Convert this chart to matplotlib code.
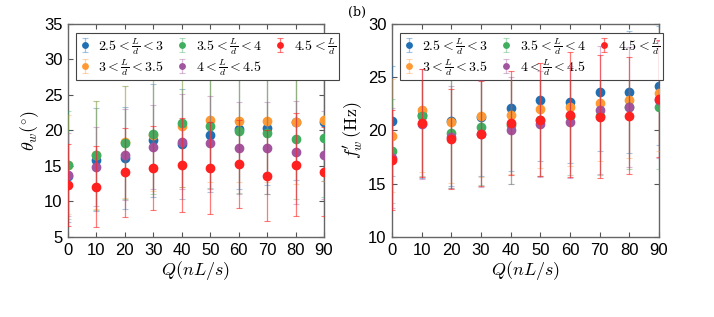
import matplotlib
matplotlib.use('Agg')
import matplotlib.pyplot as plt
import numpy as np

plt.rcParams['mathtext.fontset'] = 'cm'
plt.rcParams['font.family'] = ['Liberation Sans', 'DejaVu Sans']

Q = [0, 10, 20, 30, 40, 50, 60, 70, 80, 90]
labels = [r'$2.5<\frac{L}{d}<3$', r'$3<\frac{L}{d}<3.5$', r'$3.5<\frac{L}{d}<4$',
          r'$4<\frac{L}{d}<4.5$', r'$4.5<\frac{L}{d}$']
colors = ['#1f6fb4', '#ff9933', '#3fae5f', '#a0559e', '#ff2020']

# (a) theta_w
theta_mean = [
    [13.6, 15.9, 16.1, 18.6, 18.1, 19.3, 20.2, 20.4, 21.2, 21.2],
    [15.2, 16.6, 18.4, 19.4, 20.6, 21.5, 21.4, 21.3, 21.2, 21.5],
    [15.2, 16.5, 18.3, 19.5, 21.0, 20.6, 19.9, 19.6, 18.8, 19.0],
    [13.8, 14.9, 16.6, 17.7, 18.4, 18.3, 17.5, 17.5, 16.9, 16.5],
    [12.3, 12.1, 14.1, 14.7, 15.1, 14.7, 15.3, 13.6, 15.2, 14.2],
]
theta_err = [
    [6.5, 7.3, 7.2, 8.0, 7.7, 8.0, 8.4, 8.1, 8.2, 8.3],
    [7.0, 7.6, 7.9, 7.9, 8.6, 8.7, 8.6, 8.6, 8.8, 8.6],
    [7.6, 7.7, 7.9, 8.5, 8.9, 8.7, 8.7, 8.5, 8.4, 8.3],
    [5.8, 5.6, 6.4, 5.9, 6.7, 6.5, 6.5, 6.5, 7.2, 6.2],
    [5.8, 5.7, 6.3, 5.9, 6.6, 6.5, 6.2, 6.4, 7.2, 6.3],
]

# (b) f'_w
f_mean = [
    [20.9, 21.5, 20.9, 21.3, 22.1, 22.9, 22.7, 23.6, 23.6, 24.2],
    [19.5, 21.9, 20.8, 21.4, 21.5, 22.0, 22.2, 22.6, 22.9, 23.5],
    [18.1, 21.4, 19.8, 20.3, 20.5, 21.0, 21.4, 21.4, 22.2, 22.2],
    [17.4, 20.6, 19.4, 19.7, 20.0, 20.6, 20.8, 21.9, 22.2, 22.9],
    [17.2, 20.7, 19.2, 19.7, 20.7, 21.0, 21.5, 21.3, 21.4, 23.0],
]
f_err = [
    [5.2, 6.0, 6.1, 5.6, 5.9, 5.8, 5.8, 5.5, 5.7, 5.6],
    [5.3, 5.8, 5.7, 5.8, 5.6, 5.5, 5.5, 5.5, 5.5, 5.4],
    [4.9, 5.7, 5.2, 5.4, 5.5, 5.3, 5.6, 5.6, 5.8, 5.8],
    [4.7, 5.2, 4.8, 5.0, 5.0, 5.0, 5.3, 6.0, 5.6, 5.5],
    [4.7, 5.1, 4.7, 4.9, 4.9, 5.3, 5.9, 5.8, 5.5, 5.5],
]

fig = plt.figure(figsize=(7.14, 3.17), dpi=100)
ax1 = fig.add_axes([0.0952, 0.2524, 0.3585, 0.672])
ax2 = fig.add_axes([0.549, 0.2524, 0.374, 0.672])


def draw(ax, means, errs):
    for i in range(5):
        alpha = 0.6 if i == 4 else 0.4
        ax.errorbar(Q, means[i], yerr=errs[i], fmt='o', color=colors[i], ms=6,
                    elinewidth=0.9, capsize=2.5, capthick=0.8,
                    ecolor=matplotlib.colors.to_rgba(colors[i], alpha),
                    label=labels[i], zorder=3 + i)
    ax.set_xlim(0, 90)
    ax.set_xticks(Q)
    ax.tick_params(direction='in', top=True, right=True, labelsize=12, length=3.5,
                   color='#555555', pad=4)
    for s in ax.spines.values():
        s.set_color('#666666')
        s.set_linewidth(1.0)
    ax.set_xlabel(r'$Q(nL/s)$', fontsize=13, labelpad=1)
    leg = ax.legend(loc='upper left', ncol=3, fontsize=10, frameon=True, fancybox=False,
                    edgecolor='#444444', framealpha=1, handlelength=0.8,
                    handletextpad=0.6, columnspacing=0.9, borderpad=0.2,
                    labelspacing=0.0, markerscale=0.65, bbox_to_anchor=(0.005, 0.99))
    leg.get_frame().set_linewidth(0.8)


draw(ax1, theta_mean, theta_err)
ax1.set_ylim(5, 35)
ax1.set_yticks([5, 10, 15, 20, 25, 30, 35])
ax1.set_ylabel(r'$\theta_w(^{\circ})$', fontsize=13, labelpad=2)

draw(ax2, f_mean, f_err)
ax2.set_ylim(10, 30)
ax2.set_yticks([10, 15, 20, 25, 30])
ax2.set_ylabel(r"$f_w'\,(\mathrm{Hz})$", fontsize=13, labelpad=2)

fig.text(0.487, 0.95, '(b)', fontsize=9, family='DejaVu Serif')

fig.savefig('out.png', dpi=100)
